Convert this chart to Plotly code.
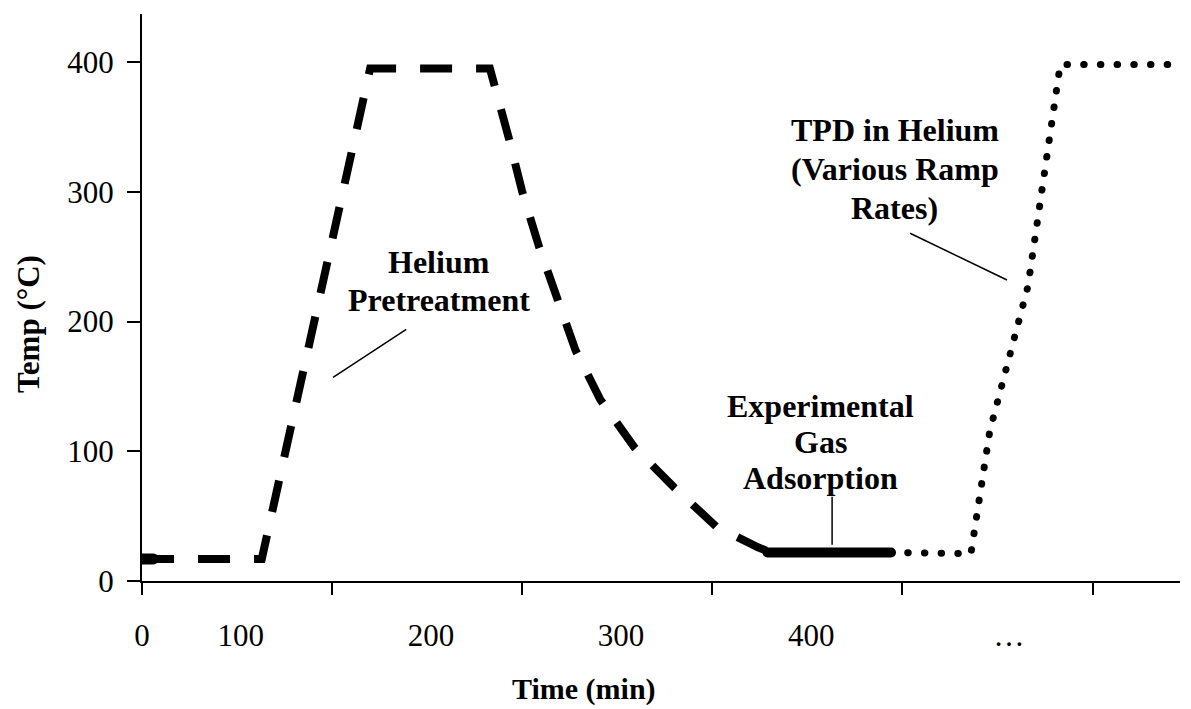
import plotly.graph_objects as go

# Helium pretreatment: heat, hold at 400 C, then cool down (min, deg C)
pretreat_time = [0, 63, 120, 183, 193, 200, 209, 219, 228, 241, 259, 280, 302, 324, 329]
pretreat_temp = [17, 17, 395, 395, 341, 300, 257, 217, 178, 140, 103, 72, 42, 26, 23]

# short solid start of the program
start_time = [0, 6]
start_temp = [17, 17]

# experimental gas adsorption at near-ambient temperature
adsorb_time = [329, 394]
adsorb_temp = [22, 22]

# TPD in helium
tpd_time = [394, 436, 446, 466, 483, 543]
tpd_temp = [22, 21, 116, 227, 398, 398]

x_tick_pos = [0, 100, 200, 300, 400, 500]
x_label_pos = [0, 52, 152, 252, 352, 456]
x_label_text = ["0", "100", "200", "300", "400", "…"]
y_ticks = [0, 100, 200, 300, 400]

# callout text lines (time, temp) and leader lines
label_lines = ["Helium", "Pretreatment",
               "Experimental", "Gas", "Adsorption",
               "TPD in Helium", "(Various Ramp", "Rates)"]
label_time = [156, 156, 357, 357, 357, 396, 396, 396]
label_temp = [246, 216.6, 135, 107, 79.4, 347.6, 317.5, 287.5]
leader_time = [[100.5, 139], [363, 363], [404, 455]]
leader_temp = [[157, 194], [28, 65], [268, 232]]

FONT = "Liberation Serif"

fig = go.Figure()
fig.add_trace(go.Scatter(x=pretreat_time, y=pretreat_temp, mode="lines",
                         line=dict(color="black", width=8, dash="32px,24px"),
                         hoverinfo="skip"))
fig.add_trace(go.Scatter(x=start_time, y=start_temp, mode="lines",
                         line=dict(color="black", width=11), hoverinfo="skip"))
fig.add_trace(go.Scatter(x=adsorb_time, y=adsorb_temp, mode="lines",
                         line=dict(color="black", width=10), hoverinfo="skip"))
fig.add_trace(go.Scatter(x=tpd_time, y=tpd_temp, mode="lines",
                         line=dict(color="black", width=7, dash="0.5px,16.2px"),
                         hoverinfo="skip"))
# carrier for the label axis
fig.add_trace(go.Scatter(x=[0], y=[0], xaxis="x2", mode="markers",
                         marker=dict(opacity=0), hoverinfo="skip"))

for lt, lT in zip(leader_time, leader_temp):
    fig.add_shape(type="line", x0=lt[0], x1=lt[1], y0=lT[0], y1=lT[1],
                  xref="x", yref="y", line=dict(color="black", width=1.5))

for txt, t, T in zip(label_lines, label_time, label_temp):
    fig.add_annotation(x=t, y=T, xref="x", yref="y", text="<b>" + txt + "</b>",
                       showarrow=False, align="center",
                       xanchor="center", yanchor="middle",
                       font=dict(family=FONT, size=32, color="black"))

fig.add_annotation(x=0.4258, y=-0.1905, xref="paper", yref="paper",
                   text="<b>Time (min)</b>", showarrow=False,
                   xanchor="center", yanchor="middle",
                   font=dict(family=FONT, size=30, color="black"))
fig.add_annotation(x=-0.11, y=0.453, xref="paper", yref="paper",
                   text="<b>Temp (°C)</b>", showarrow=False, textangle=-90,
                   xanchor="center", yanchor="middle",
                   font=dict(family=FONT, size=31, color="black"))

axis_font = dict(family=FONT, size=31, color="black")
fig.update_layout(
    width=1191, height=709,
    margin=dict(l=142, r=11, t=14, b=128),
    paper_bgcolor="white", plot_bgcolor="white",
    showlegend=False,
    xaxis=dict(range=[0, 546], tickvals=x_tick_pos, ticks="outside", ticklen=12,
               tickwidth=2, tickcolor="black", showticklabels=False,
               showline=True, linewidth=2, linecolor="black",
               showgrid=False, zeroline=False, fixedrange=True),
    xaxis2=dict(range=[0, 546], overlaying="x", side="bottom",
                tickvals=x_label_pos, ticktext=x_label_text,
                ticks="outside", ticklen=12, tickcolor="rgba(0,0,0,0)",
                ticklabelstandoff=15,
                tickfont=axis_font, showline=False, showgrid=False,
                zeroline=False, fixedrange=True),
    yaxis=dict(range=[0, 437], tickvals=y_ticks, ticks="outside", ticklen=13,
               tickwidth=2, tickcolor="black", tickfont=axis_font,
               ticklabelstandoff=7,
               showline=True, linewidth=2, linecolor="black",
               showgrid=False, zeroline=False, fixedrange=True),
)

round_caps = ("var tr=document.querySelectorAll('.scatterlayer .trace');"
              "[1,2,3].forEach(function(i){if(tr[i]){tr[i].querySelectorAll('path.js-line')"
              ".forEach(function(p){p.style.strokeLinecap='round';});}});")

fig.write_html("out.html", post_script=round_caps, config={"displayModeBar": False})
